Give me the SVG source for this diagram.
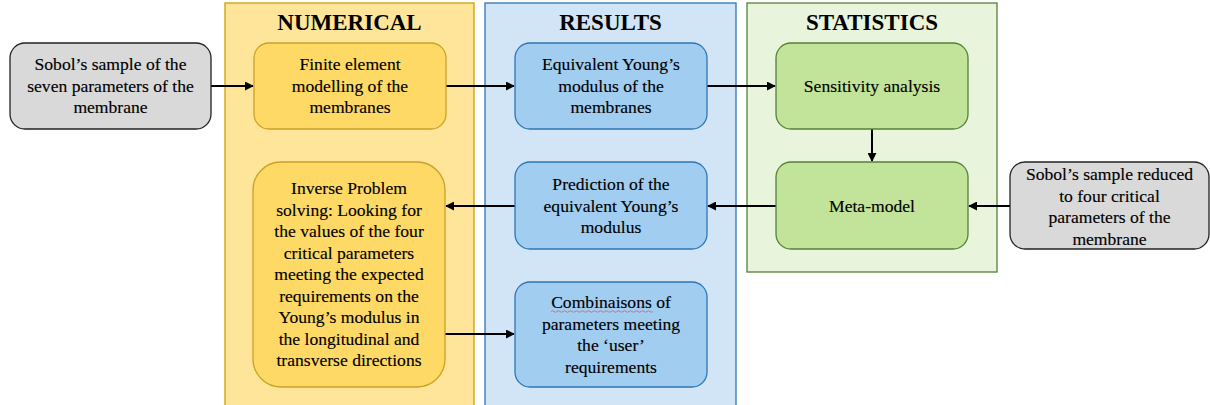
<svg xmlns="http://www.w3.org/2000/svg" width="1210" height="405" viewBox="0 0 1210 405">
<style>
.tx{font-family:'Liberation Serif','Times New Roman',serif;font-size:17.6px;fill:#000;stroke:#000;stroke-width:0.15;text-anchor:middle}
.hd{font-family:'Liberation Serif','Times New Roman',serif;font-size:23px;font-weight:bold;fill:#000;text-anchor:middle}
.gray{fill:#d9d9d9;stroke:#222;stroke-width:1.3}
.yel{fill:#ffd966;stroke:#c9a227;stroke-width:1.3}
.blu{fill:#a0cdf0;stroke:#2e75b6;stroke-width:1.3}
.grn{fill:#c1e39a;stroke:#548235;stroke-width:1.3}
.c{stroke:#000;stroke-width:2;fill:none;marker-end:url(#a)}
</style>
<defs>
<marker id="a" viewBox="0 0 10 10" refX="9" refY="5" markerWidth="4.5" markerHeight="4.5" orient="auto" markerUnits="strokeWidth">
<path d="M0,0 L10,5 L0,10 z" fill="#000"/>
</marker>
</defs>
<rect width="1210" height="405" fill="#fff"/>
<g id="numerical">
<rect x="225" y="3" width="249" height="410" fill="#ffe599" stroke="#d0a000" stroke-width="1.3"/>
<text class="hd" x="349.5" y="30">NUMERICAL</text>
</g>
<g id="results">
<rect x="485" y="3" width="251" height="410" fill="#d1e5f6" stroke="#2e75b6" stroke-width="1.3"/>
<text class="hd" x="610.5" y="30">RESULTS</text>
</g>
<g id="statistics">
<rect x="747" y="3" width="250" height="269" fill="#e8f4dc" stroke="#548235" stroke-width="1.3"/>
<text class="hd" x="872" y="30">STATISTICS</text>
</g>
<g id="connectors">
<line class="c" x1="211" y1="86" x2="253" y2="86"/>
<line class="c" x1="446" y1="86" x2="514" y2="86"/>
<line class="c" x1="707" y1="86" x2="775" y2="86"/>
<line class="c" x1="872" y1="129" x2="872" y2="161"/>
<line class="c" x1="1010" y1="206" x2="969" y2="206"/>
<line class="c" x1="776" y1="206" x2="708" y2="206"/>
<line class="c" x1="515" y1="206" x2="446" y2="206"/>
<line class="c" x1="445" y1="334" x2="514" y2="334"/>
</g>
<g id="sobol1">
<rect class="gray" x="10" y="43" width="201" height="86" rx="15"/>
<text class="tx" x="110.5" y="70">Sobol’s sample of the</text>
<text class="tx" x="110.5" y="91.5">seven parameters of the</text>
<text class="tx" x="110.5" y="113">membrane</text>
</g>
<g id="fem">
<rect class="yel" x="254" y="43" width="192" height="86" rx="15"/>
<text class="tx" x="350" y="70">Finite element</text>
<text class="tx" x="350" y="91.5">modelling of the</text>
<text class="tx" x="350" y="113">membranes</text>
</g>
<g id="equivalent">
<rect class="blu" x="515" y="43" width="192" height="86" rx="15"/>
<text class="tx" x="611" y="70">Equivalent Young’s</text>
<text class="tx" x="611" y="91.5">modulus of the</text>
<text class="tx" x="611" y="113">membranes</text>
</g>
<g id="sensitivity">
<rect class="grn" x="776" y="43" width="192" height="86" rx="15"/>
<text class="tx" x="872" y="91.5">Sensitivity analysis</text>
</g>
<g id="metamodel">
<rect class="grn" x="776" y="162" width="192" height="87" rx="15"/>
<text class="tx" x="872" y="211.5">Meta-model</text>
</g>
<g id="sobol2">
<rect class="gray" x="1010" y="162" width="199" height="87" rx="15"/>
<text class="tx" x="1109.5" y="180">Sobol’s sample reduced</text>
<text class="tx" x="1109.5" y="201.5">to four critical</text>
<text class="tx" x="1109.5" y="223">parameters of the</text>
<text class="tx" x="1109.5" y="244.5">membrane</text>
</g>
<g id="prediction">
<rect class="blu" x="515" y="162" width="192" height="87" rx="15"/>
<text class="tx" x="611" y="190">Prediction of the</text>
<text class="tx" x="611" y="211.5">equivalent Young’s</text>
<text class="tx" x="611" y="233">modulus</text>
</g>
<g id="inverse">
<rect class="yel" x="253" y="162" width="192" height="225" rx="28"/>
<text class="tx" x="349" y="194">Inverse Problem</text>
<text class="tx" x="349" y="215.5">solving: Looking for</text>
<text class="tx" x="349" y="237">the values of the four</text>
<text class="tx" x="349" y="258.5">critical parameters</text>
<text class="tx" x="349" y="280">meeting the expected</text>
<text class="tx" x="349" y="301.5">requirements on the</text>
<text class="tx" x="349" y="323">Young’s modulus in</text>
<text class="tx" x="349" y="344.5">the longitudinal and</text>
<text class="tx" x="349" y="366">transverse directions</text>
</g>
<g id="combinaisons">
<rect class="blu" x="515" y="282" width="192" height="105" rx="15"/>
<text class="tx" x="611" y="308">Combinaisons of</text>
<text class="tx" x="611" y="329.5">parameters meeting</text>
<text class="tx" x="611" y="351">the ‘user’</text>
<text class="tx" x="611" y="372.5">requirements</text>
<path d="M551,311.5 q1.5,-1.5 3,0 t3,0 t3,0 t3,0 t3,0 t3,0 t3,0 t3,0 t3,0 t3,0 t3,0 t3,0 t3,0 t3,0 t3,0 t3,0 t3,0 t3,0 t3,0 t3,0 t3,0 t3,0 t3,0 t3,0 t3,0 t3,0 t3,0 t3,0 t3,0 t3,0 t3,0 t3,0 t3,0 t3,0" fill="none" stroke="#e05050" stroke-width="0.7"/>
</g>
</svg>
